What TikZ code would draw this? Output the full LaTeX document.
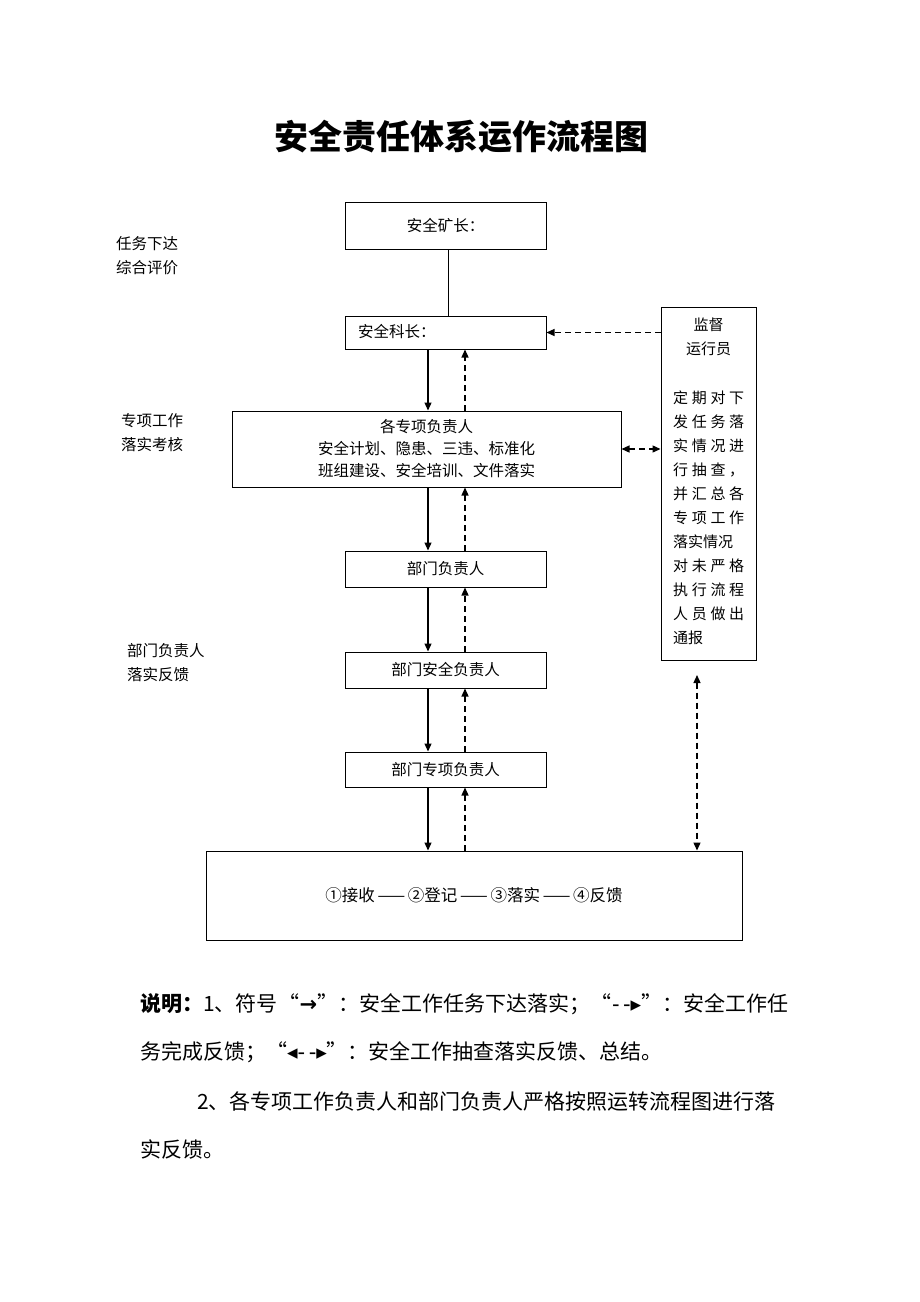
\documentclass[tikz,border=0pt]{standalone}
\usepackage{fontspec}
\setmainfont{Noto Sans CJK SC}
\newfontfamily\dejavu{DejaVu Sans}
\usetikzlibrary{arrows.meta}
\begin{document}
\begin{tikzpicture}[x=1pt,y=-1pt,
  box/.style={draw, line width=1pt, inner sep=0pt, align=center, font=\fontsize{15.5}{22}\selectfont},
  txt/.style={inner sep=0pt, font=\fontsize{15.5}{18}\selectfont},
  montxt/.style={inner sep=0pt, anchor=west, font=\fontsize{15}{18}\selectfont},
  note/.style={inner sep=0pt, anchor=west, font=\fontsize{21}{24}\selectfont},
  tip/.style={-{Triangle[length=8pt,width=7pt]}},
  solidarr/.style={line width=1.2pt, tip},
  dasharr/.style={line width=1.3pt, dash pattern=on 6pt off 4pt, tip},
  dbldash/.style={line width=1.3pt, dash pattern=on 6pt off 4pt, {Triangle[length=8pt,width=7pt]}-{Triangle[length=8pt,width=7pt]}},
  plain/.style={line width=1pt}
]
\path[use as bounding box, fill=white] (0,0) rectangle (920,1302);

% title
\node[inner sep=0pt, font=\fontsize{34}{40}\selectfont\bfseries] (title) at (461,137) {安全责任体系运作流程图};

% left labels
\node[txt, anchor=west, align=left, font=\fontsize{15.5}{24}\selectfont] (lab1) at (116,256) {任务下达\\综合评价};
\node[txt, anchor=west, align=left, font=\fontsize{15.5}{24}\selectfont] (lab2) at (121,433) {专项工作\\落实考核};
\node[txt, anchor=west, align=left, font=\fontsize{15.5}{24}\selectfont] (lab3) at (127,663) {部门负责人\\落实反馈};

% boxes
\node[box, minimum width=201pt, minimum height=47pt] (kz) at (445.5,225.5) {安全矿长：};
\node[box, minimum width=201pt, minimum height=33pt] (kez) at (445.5,332.5) {};
\node[txt, anchor=west] (kezt) at (358,332) {安全科长：};
\node[box, minimum width=389pt, minimum height=76pt] (gx) at (426.5,449) {各专项负责人\\安全计划、隐患、三违、标准化\\班组建设、安全培训、文件落实};
\node[box, minimum width=201pt, minimum height=36pt] (bm) at (445.5,569) {部门负责人};
\node[box, minimum width=201pt, minimum height=36pt] (bmaq) at (445.5,670) {部门安全负责人};
\node[box, minimum width=201pt, minimum height=35pt] (bmzx) at (445.5,769.5) {部门专项负责人};
\node[box, minimum width=536pt, minimum height=89pt, font=\fontsize{16.5}{20}\selectfont] (bot) at (474,895.5) {①接收\,——\,②登记\,——\,③落实\,——\,④反馈};

% monitor box
\node[box, minimum width=95pt, minimum height=353pt] (mon) at (708.5,483.5) {};
\node[txt, font=\fontsize{15}{24}\selectfont, align=center] (mont) at (708.5,337) {监督\\运行员};
\node[montxt] (m1) at (673,398) {\makebox[71pt][s]{定\hfill 期\hfill 对\hfill 下}};
\node[montxt] (m2) at (673,422) {\makebox[71pt][s]{发\hfill 任\hfill 务\hfill 落}};
\node[montxt] (m3) at (673,446) {\makebox[71pt][s]{实\hfill 情\hfill 况\hfill 进}};
\node[montxt] (m4) at (673,470) {\makebox[71pt][s]{行\hfill 抽\hfill 查\hfill ，}};
\node[montxt] (m5) at (673,494) {\makebox[71pt][s]{并\hfill 汇\hfill 总\hfill 各}};
\node[montxt] (m6) at (673,518) {\makebox[71pt][s]{专\hfill 项\hfill 工\hfill 作}};
\node[montxt] (m7) at (673,542) {落实情况};
\node[montxt] (m8) at (673,566) {\makebox[71pt][s]{对\hfill 未\hfill 严\hfill 格}};
\node[montxt] (m9) at (673,590) {\makebox[71pt][s]{执\hfill 行\hfill 流\hfill 程}};
\node[montxt] (m10) at (673,614) {\makebox[71pt][s]{人\hfill 员\hfill 做\hfill 出}};
\node[montxt] (m11) at (673,638) {通报};

% helper coordinates
\coordinate (xL) at (428,0);
\coordinate (xR) at (465,0);
\coordinate (xT) at (448,0);
\coordinate (v1) at (697,675);

% connectors
\draw[plain] (kz.south -| xT) -- (kez.north -| xT);
\draw[dasharr] (mon.west |- kez.east) -- (kez.east);
\draw[dbldash] (gx.east) -- (gx.east -| mon.west);
\draw[dbldash] (v1) -- (v1 |- bot.north);

\draw[solidarr] (kez.south -| xL) -- (gx.north -| xL);
\draw[dasharr] (gx.north -| xR) -- (kez.south -| xR);
\draw[solidarr] (gx.south -| xL) -- (bm.north -| xL);
\draw[dasharr] (bm.north -| xR) -- (gx.south -| xR);
\draw[solidarr] (bm.south -| xL) -- (bmaq.north -| xL);
\draw[dasharr] (bmaq.north -| xR) -- (bm.south -| xR);
\draw[solidarr] (bmaq.south -| xL) -- (bmzx.north -| xL);
\draw[dasharr] (bmzx.north -| xR) -- (bmaq.south -| xR);
\draw[solidarr] (bmzx.south -| xL) -- (bot.north -| xL);
\draw[dasharr] (bot.north -| xR) -- (bmzx.south -| xR);

% notes
\node[note] (n1) at (140,1004) {\makebox[648pt][s]{\textbf{说明：}1、符号\hfill“{\dejavu\bfseries →}”：安全工作任务下达落实；\hfill“{\dejavu -\,-▸}”：安全工作任}};
\node[note] (n2) at (140,1052) {务完成反馈；“{\dejavu ◂-\,-▸}”：安全工作抽查落实反馈、总结。};
\node[note] (n3) at (197,1101) {2、各专项工作负责人和部门负责人严格按照运转流程图进行落};
\node[note] (n4) at (140,1149) {实反馈。};
\end{tikzpicture}
\end{document}
